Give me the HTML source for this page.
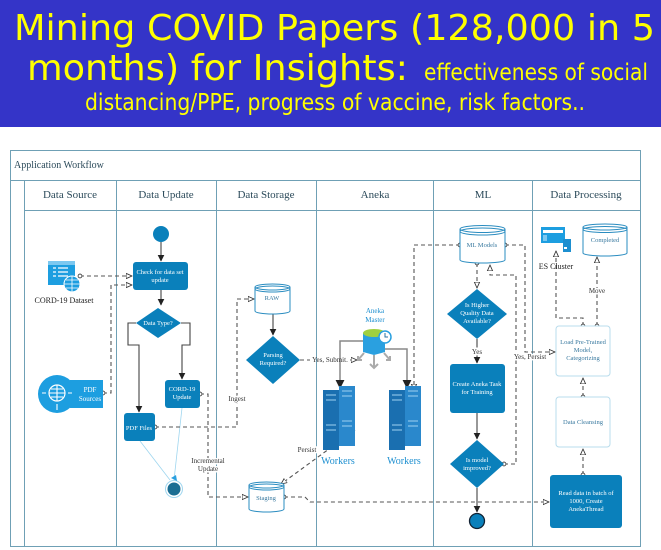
<!DOCTYPE html>
<html><head><meta charset="utf-8"><style>
body{margin:0;width:661px;height:550px;overflow:hidden;background:#fff;font-family:"Liberation Serif",serif}
</style></head><body>
<svg width="661" height="127" style="position:absolute;left:0;top:0" font-family="DejaVu Sans Condensed, DejaVu Sans, sans-serif" fill="#ffff00">
<rect x="0" y="0" width="661" height="127" fill="#3434c8"/>
<text x="14" y="40" font-size="36" textLength="641" lengthAdjust="spacingAndGlyphs">Mining COVID Papers (128,000 in 5</text>
<text x="27" y="80" font-size="36" textLength="381" lengthAdjust="spacingAndGlyphs">months) for Insights:</text>
<text x="424" y="80" font-size="23" textLength="224" lengthAdjust="spacingAndGlyphs">effectiveness of social</text>
<text x="85" y="110" font-size="23" textLength="500" lengthAdjust="spacingAndGlyphs">distancing/PPE, progress of vaccine, risk factors..</text>
</svg>
<svg width="661" height="550" style="position:absolute;left:0;top:0" font-family="Liberation Serif, serif">
<defs>
<marker id="a" viewBox="0 0 10 10" refX="9" refY="5" markerWidth="6" markerHeight="6" orient="auto"><path d="M0,0L10,5L0,10z" fill="#222"/></marker>
<marker id="o" viewBox="0 0 10 10" refX="9" refY="5" markerWidth="6" markerHeight="6" orient="auto"><path d="M0,1L9,5L0,9z" fill="#fff" stroke="#333" stroke-width="1.3"/></marker>
<marker id="c" viewBox="0 0 10 10" refX="5" refY="5" markerWidth="5" markerHeight="5"><circle cx="5" cy="5" r="3.5" fill="#fff" stroke="#333" stroke-width="1.5"/></marker>
</defs>
<g fill="none" stroke="#6fa0b5" stroke-width="1">
<rect x="10.5" y="150.5" width="630" height="396"/>
<line x1="10" y1="180.5" x2="641" y2="180.5"/>
<line x1="24" y1="210.5" x2="641" y2="210.5"/>
<line x1="24.5" y1="180" x2="24.5" y2="547"/>
<line x1="116.5" y1="180" x2="116.5" y2="547"/>
<line x1="216.5" y1="180" x2="216.5" y2="547"/>
<line x1="316.5" y1="180" x2="316.5" y2="547"/>
<line x1="433.5" y1="180" x2="433.5" y2="547"/>
<line x1="532.5" y1="180" x2="532.5" y2="547"/>
</g>
<g font-size="11" fill="#2b4a5a" text-anchor="middle">
<text x="14" y="168" text-anchor="start" font-size="10">Application Workflow</text>
<text x="70" y="198">Data Source</text>
<text x="166" y="198">Data Update</text>
<text x="266" y="198">Data Storage</text>
<text x="375" y="198">Aneka</text>
<text x="483" y="198">ML</text>
<text x="586" y="198">Data Processing</text>
</g>
<g fill="none" stroke="#444" stroke-width="1.1">
<path d="M161,242V261" marker-end="url(#a)"/>
<path d="M161,290V305" marker-end="url(#a)"/>
<path d="M136,323H128V345H139V412" marker-end="url(#a)"/>
<path d="M181,323H190V345H182V379" marker-end="url(#a)"/>
<path d="M273,313V335" marker-end="url(#a)"/>
<path d="M477,339V363" marker-end="url(#a)"/>
<path d="M477,413V439" marker-end="url(#a)"/>
<path d="M477,488V512" marker-end="url(#a)"/>
</g>
<g fill="none" stroke="#888" stroke-width="1.5">
<path d="M363,341H340V388" marker-end="url(#a)"/>
<path d="M385,349H407V388" marker-end="url(#a)"/>
</g>
<g fill="none" stroke="#9fd6ef" stroke-width="0.8">
<path d="M140,441L170,480"/><path d="M182,408L174,480"/>
</g>
<g fill="none" stroke="#555" stroke-width="1.1" stroke-dasharray="4,3">
<path d="M80,276H132" marker-start="url(#c)" marker-end="url(#o)"/>
<path d="M103,393H111V285H132" marker-start="url(#c)" marker-end="url(#o)"/>
<path d="M155,427H237V299H254" marker-start="url(#c)" marker-end="url(#o)"/>
<path d="M200,394H208V497H248" marker-start="url(#c)" marker-end="url(#o)"/>
<path d="M300,360H310M350,360H357" marker-end="url(#o)"/>
<path d="M355,430L281,484" marker-end="url(#o)"/>
<path d="M284,497H305L310,502H549" marker-start="url(#c)" marker-end="url(#o)"/>
<path d="M460,245H414V390" marker-start="url(#c)" marker-end="url(#o)"/>
<path d="M505,245H525V352H555" marker-start="url(#c)" marker-end="url(#o)"/>
<path d="M477,263V288" marker-start="url(#c)" marker-end="url(#o)"/>
<path d="M504,464H516V275H490V265" marker-start="url(#c)" marker-end="url(#o)"/>
<path d="M583,326V318H556V251" marker-start="url(#c)" marker-end="url(#o)"/>
<path d="M597,326V257" marker-start="url(#c)" marker-end="url(#o)"/>
<path d="M583,397V378" marker-start="url(#c)" marker-end="url(#o)"/>
<path d="M583,475V449" marker-start="url(#c)" marker-end="url(#o)"/>
</g>
<g font-size="7" fill="#333" text-anchor="middle">
<text x="237" y="401" style="paint-order:stroke" stroke="#fff" stroke-width="3">Ingest</text>
<text x="208" y="463" style="paint-order:stroke" stroke="#fff" stroke-width="3"><tspan x="208">Incremental</tspan><tspan x="208" dy="8">Update</tspan></text>
<text x="330" y="362">Yes, Submit.</text>
<text x="307" y="452" style="paint-order:stroke" stroke="#fff" stroke-width="3">Persist</text>
<text x="477" y="354" style="paint-order:stroke" stroke="#fff" stroke-width="3">Yes</text>
<text x="530" y="359" style="paint-order:stroke" stroke="#fff" stroke-width="3">Yes, Persist</text>
<text x="597" y="293" style="paint-order:stroke" stroke="#fff" stroke-width="3">Move</text>
</g>
<circle cx="161" cy="234" r="8" fill="#0a80bb"/>
<g><rect x="133" y="262" width="55" height="28" rx="3" fill="#0a80bb"/><text x="160" y="274" font-size="6.5" fill="#fff" text-anchor="middle">Check for data set<tspan x="160" dy="8">update</tspan></text></g>
<g><path d="M158,308L181,323L158,338L136,323z" fill="#0a80bb"/><text x="158" y="325" font-size="6.5" fill="#fff" text-anchor="middle">Data Type?</text></g>
<g><rect x="165" y="380" width="35" height="28" rx="3" fill="#0a80bb"/><text x="182" y="391" font-size="6.5" fill="#fff" text-anchor="middle">CORD-19<tspan x="182" dy="8">Update</tspan></text></g>
<g><rect x="124" y="413" width="31" height="28" rx="3" fill="#0a80bb"/><text x="139" y="430" font-size="6.5" fill="#fff" text-anchor="middle">PDF Files</text></g>
<g><circle cx="174" cy="489" r="8.5" fill="#fff" stroke="#9fd6ef"/><circle cx="174" cy="489" r="6.5" fill="#1a6d92"/><path d="M171,478L176,475L177,481z" fill="#2aa0e0"/></g>
<g><rect x="48" y="261" width="27" height="24" fill="#1d9ee0"/><rect x="48" y="261" width="27" height="4" fill="#7cc8f0"/><path d="M53,268h3M58,268h10M53,272h3M58,272h10M53,276h3M58,276h10" stroke="#fff" stroke-width="1.2"/><circle cx="72" cy="284" r="8" fill="#1d9ee0" stroke="#fff" stroke-width="1"/><path d="M64,284h16M72,276v16M66,280h12M66,288h12" stroke="#fff" stroke-width="0.8"/></g>
<text x="64" y="303" font-size="8" fill="#222" text-anchor="middle">CORD-19 Dataset</text>
<g><rect x="70" y="380" width="33" height="28" fill="#1d9ee0"/><circle cx="57" cy="394" r="19" fill="#1d9ee0"/><circle cx="57" cy="393" r="8" fill="none" stroke="#fff" stroke-width="1.2"/><path d="M49,393h16M57,385v16M51,389h12M51,397h12M42,393h4M68,393h4M57,404v6" stroke="#fff" stroke-width="1.1"/><text x="90" y="392" font-size="7" fill="#fff" text-anchor="middle">PDF<tspan x="90" dy="9">Sources</tspan></text></g>
<g><path d="M255,287V311A17.5,3 0 0 0 290,311V287" fill="#fff" stroke="#2a8cc0"/><ellipse cx="272.5" cy="287" rx="17.5" ry="3" fill="#fff" stroke="#2a8cc0"/><ellipse cx="272.5" cy="289" rx="17.5" ry="3" fill="none" stroke="#2a8cc0"/><text x="272" y="300" font-size="6.5" fill="#3a7aa0" text-anchor="middle">RAW</text></g>
<g><path d="M273,336L300,360L273,384L246,360z" fill="#0a80bb"/><text x="273" y="357" font-size="6.5" fill="#fff" text-anchor="middle">Parsing<tspan x="273" dy="8">Required?</tspan></text></g>
<g><path d="M249,485V509A17.5,3 0 0 0 284,509V485" fill="#fff" stroke="#2a8cc0"/><ellipse cx="266.5" cy="485" rx="17.5" ry="3" fill="#fff" stroke="#2a8cc0"/><ellipse cx="266.5" cy="487" rx="17.5" ry="3" fill="none" stroke="#2a8cc0"/><text x="266" y="500" font-size="6.5" fill="#3a7aa0" text-anchor="middle">Staging</text></g>
<text x="375" y="313" font-size="7" fill="#1d8fd0" text-anchor="middle">Aneka<tspan x="375" dy="9">Master</tspan></text>
<g><path d="M363,333V352L374,355L385,352V333z" fill="#2aa0e0"/><ellipse cx="374" cy="333" rx="11" ry="4" fill="#a0d040"/><circle cx="385" cy="337" r="6" fill="#fff" stroke="#2aa0e0" stroke-width="1.5"/><path d="M385,333V337H388" stroke="#2a70a0" fill="none"/><path d="M374,355V368M370,364L374,368L378,364M364,353L358,360M358,356V360H362M384,353L390,360M390,356V360H386" stroke="#aaa" stroke-width="2" fill="none"/></g>
<g>
<rect x="323" y="390" width="16" height="30" fill="#1a6fb0"/><rect x="339" y="386" width="16" height="30" fill="#2a88cc"/><rect x="323" y="420" width="16" height="30" fill="#1a6fb0"/><rect x="339" y="416" width="16" height="30" fill="#2a88cc"/>
<path d="M326,395h10M326,400h10M326,425h10M326,430h10M342,391h10M342,396h10M342,421h10M342,426h10" stroke="#9fd0f0" stroke-width="1"/></g>
<text x="338" y="464" font-size="10" fill="#1d8fd0" text-anchor="middle">Workers</text>
<g>
<rect x="389" y="390" width="16" height="30" fill="#1a6fb0"/><rect x="405" y="386" width="16" height="30" fill="#2a88cc"/><rect x="389" y="420" width="16" height="30" fill="#1a6fb0"/><rect x="405" y="416" width="16" height="30" fill="#2a88cc"/>
<path d="M392,395h10M392,400h10M392,425h10M392,430h10M408,391h10M408,396h10M408,421h10M408,426h10" stroke="#9fd0f0" stroke-width="1"/></g>
<text x="404" y="464" font-size="10" fill="#1d8fd0" text-anchor="middle">Workers</text>
<g><path d="M460,229V260A22.5,3 0 0 0 505,260V229" fill="#fff" stroke="#2a8cc0"/><ellipse cx="482.5" cy="229" rx="22.5" ry="3.5" fill="#fff" stroke="#2a8cc0"/><ellipse cx="482.5" cy="231.5" rx="22.5" ry="3.5" fill="none" stroke="#2a8cc0"/><text x="482" y="247" font-size="6.5" fill="#3a7aa0" text-anchor="middle">ML Models</text></g>
<g><path d="M477,289L507,314L477,339L447,314z" fill="#0a80bb"/><text x="477" y="307" font-size="6.5" fill="#fff" text-anchor="middle">Is Higher<tspan x="477" dy="8">Quality Data</tspan><tspan x="477" dy="8">Available?</tspan></text></g>
<g><rect x="450" y="364" width="55" height="49" rx="3" fill="#0a80bb"/><text x="477" y="386" font-size="6.5" fill="#fff" text-anchor="middle">Create Aneka Task<tspan x="477" dy="8">for Training</tspan></text></g>
<g><path d="M477,440L504,464L477,488L450,464z" fill="#0a80bb"/><text x="477" y="462" font-size="6.5" fill="#fff" text-anchor="middle">Is model<tspan x="477" dy="8">improved?</tspan></text></g>
<circle cx="477" cy="521" r="7.5" fill="#0a80bb" stroke="#123" stroke-width="1.3"/>
<g><rect x="541" y="227" width="24" height="16" fill="#1d9ee0"/><rect x="543" y="230" width="20" height="3" fill="#fff"/><rect x="543" y="235" width="4" height="6" fill="#7cc8f0"/><rect x="563" y="239" width="8" height="13" fill="#1d8fd0"/><rect x="564" y="247" width="3" height="2" fill="#fff"/></g>
<text x="556" y="269" font-size="8" fill="#222" text-anchor="middle">ES Cluster</text>
<g><path d="M583,227V253A22,3 0 0 0 627,253V227" fill="#fff" stroke="#2a8cc0"/><ellipse cx="605" cy="227" rx="22" ry="3" fill="#fff" stroke="#2a8cc0"/><ellipse cx="605" cy="229.5" rx="22" ry="3" fill="none" stroke="#2a8cc0"/><text x="605" y="242" font-size="6.5" fill="#3a7aa0" text-anchor="middle">Completed</text></g>
<g><rect x="556" y="326" width="54" height="50" rx="3" fill="#fff" stroke="#b8dcec"/><text x="583" y="344" font-size="6.5" fill="#3a7aa0" text-anchor="middle">Load Pre-Trained<tspan x="583" dy="8">Model,</tspan><tspan x="583" dy="8">Categorizing</tspan></text></g>
<g><rect x="556" y="397" width="54" height="50" rx="3" fill="#fff" stroke="#b8dcec"/><text x="583" y="424" font-size="6.5" fill="#3a7aa0" text-anchor="middle">Data Cleansing</text></g>
<g><rect x="550" y="475" width="72" height="53" rx="3" fill="#0a80bb"/><text x="586" y="495" font-size="6.5" fill="#fff" text-anchor="middle">Read data in batch of<tspan x="586" dy="8">1000, Create</tspan><tspan x="586" dy="8">AnekaThread</tspan></text></g>
</svg>
</body></html>
